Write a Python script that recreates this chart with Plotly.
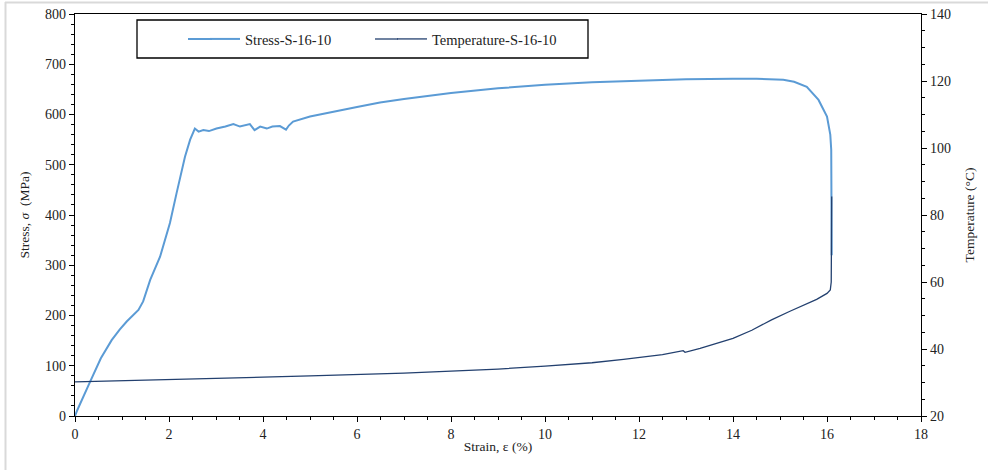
import plotly.graph_objects as go

# ---- data ----
stress_strain = [0, 0.05, 0.32, 0.55, 0.78, 0.95, 1.1, 1.25, 1.35, 1.45, 1.6, 1.81, 2.02, 2.16, 2.34, 2.45,
                 2.55, 2.63, 2.73, 2.85, 3.01, 3.2, 3.37, 3.51, 3.6, 3.72, 3.82, 3.94, 4.08, 4.2, 4.36,
                 4.49, 4.55, 4.64, 5.0, 5.5, 6.0, 6.49, 7, 8, 9, 10, 11, 12, 13, 14, 14.5, 15.07, 15.3,
                 15.57, 15.82, 16.0, 16.07, 16.09, 16.1]
stress_mpa = [0, 12, 68, 115, 151, 172, 188, 202, 211, 228, 271, 317, 384, 443, 516, 550,
              572, 566, 569, 567, 572, 576, 581, 576, 578, 581, 569, 576, 572, 576, 577,
              570, 578, 586, 596, 606, 615, 624, 631, 643, 652, 659, 664, 667, 670, 671, 671, 669, 665,
              655, 629, 596, 560, 530, 320]

temp_strain = [0, 1, 2, 3, 4, 5, 6, 7, 8, 9, 10, 11, 11.67, 12, 12.5, 12.94, 12.98, 13.3, 13.7, 14.0,
               14.4, 14.82, 15.2, 15.57, 15.78, 16.0, 16.07, 16.09, 16.1]
temp_c = [30.2, 30.5, 31.0, 31.3, 31.6, 32.0, 32.3, 32.8, 33.4, 34.0, 34.9, 35.9, 36.9, 37.4, 38.3, 39.5,
          39.0, 40.2, 41.8, 43.2, 45.6, 48.7, 51.2, 53.6, 54.8, 56.6, 57.6, 60.0, 85.5]

series_names = ["Stress-S-16-10", "Temperature-S-16-10"]
series_colors = ["#5B9BD5", "#23406F"]

FONT = "Liberation Serif"
W, H = 988, 470
L, R, T, B = 75, 67, 14, 54
PW, PH = W - L - R, H - T - B


def px(x):
    return (x - L) / PW


def py(y):
    return (H - B - y) / PH


fig = go.Figure()
fig.add_trace(go.Scatter(x=stress_strain, y=stress_mpa, mode="lines", name=series_names[0],
                         line=dict(color=series_colors[0], width=2)))
fig.add_trace(go.Scatter(x=temp_strain, y=temp_c, mode="lines", name=series_names[1], yaxis="y2",
                         line=dict(color=series_colors[1], width=1.3)))

axis_common = dict(showline=True, linecolor="black", linewidth=1.3, showgrid=False, zeroline=False,
                   automargin=False,
                   ticks="outside", ticklen=5, tickcolor="black", tickwidth=1,
                   tickfont=dict(family=FONT, size=14, color="#222"))

fig.update_layout(
    width=W, height=H,
    margin=dict(l=L, r=R, t=T, b=B, pad=0, autoexpand=False),
    paper_bgcolor="white", plot_bgcolor="white",
    font=dict(family=FONT, size=14, color="#222"),
    xaxis=dict(range=[0, 18], dtick=2, mirror=True,
               minor=dict(dtick=0.5, ticks="outside", ticklen=3, tickcolor="black"),
               title=dict(text="Strain, ε (%)", font=dict(family=FONT, size=13.5), standoff=0),
               **axis_common),
    yaxis=dict(range=[0, 800], dtick=100,
               minor=dict(dtick=20, ticks="outside", ticklen=3, tickcolor="black"),
               title=dict(text="Stress, <i>σ</i>  (MPa)", font=dict(family=FONT, size=13.5), standoff=12),
               **axis_common),
    yaxis2=dict(range=[20, 140], dtick=20, overlaying="y", side="right",
                minor=dict(dtick=5, ticks="outside", ticklen=3, tickcolor="black"),
                title=dict(text="Temperature (°C)", font=dict(family=FONT, size=13.5), standoff=14),
                **axis_common),
    showlegend=True,
    legend=dict(orientation="h", x=px(205), y=py(39), xanchor="left", yanchor="middle",
                bgcolor="rgba(0,0,0,0)", borderwidth=0, entrywidth=142, entrywidthmode="pixels",
                font=dict(family=FONT, size=14.5, color="#222")),
    shapes=[
        dict(type="rect", xref="paper", yref="paper", x0=px(137), x1=px(588), y0=py(58), y1=py(20),
             line=dict(color="black", width=1.3), fillcolor="white", layer="below"),
        # extend the legend samples to the longer length used in the reference
        dict(type="line", xref="paper", yref="paper", x0=px(188), x1=px(212), y0=py(39), y1=py(39),
             line=dict(color=series_colors[0], width=2)),
        dict(type="line", xref="paper", yref="paper", x0=px(375), x1=px(398), y0=py(39), y1=py(39),
             line=dict(color=series_colors[1], width=1.3)),
        dict(type="line", xref="paper", yref="paper", x0=px(5.5), x1=px(5.5), y0=py(2), y1=py(470),
             line=dict(color="#d9d9d9", width=2)),
        dict(type="line", xref="paper", yref="paper", x0=px(5), x1=px(988), y0=py(2.5), y1=py(2.5),
             line=dict(color="#d9d9d9", width=2)),
    ],
)

fig.write_html("out.html")
